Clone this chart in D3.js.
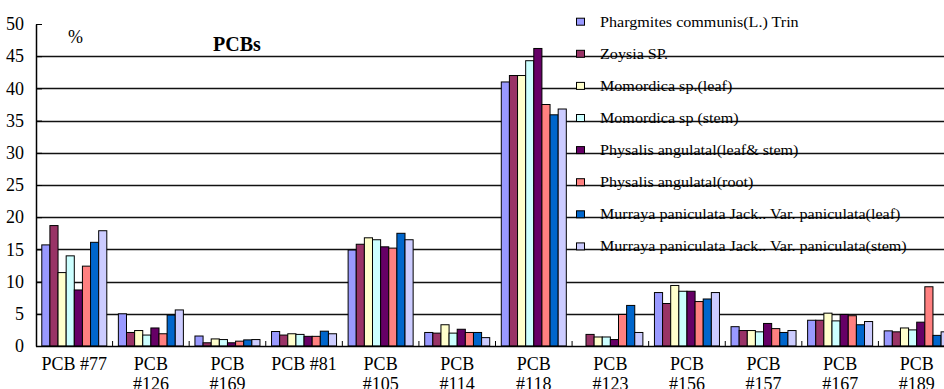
<!DOCTYPE html>
<html><head><meta charset="utf-8">
<script src="https://cdn.jsdelivr.net/npm/d3@7"></script>
<style>
html,body{margin:0;padding:0;background:#fff;overflow:hidden}
svg{display:block}
text{font-family:"Liberation Serif","Times New Roman",serif;fill:#000}
</style></head>
<body>
<svg id="chart" width="944" height="389"></svg>
<script>
const categories = ["PCB #77","PCB #126","PCB #169","PCB #81","PCB #105","PCB #114","PCB #118","PCB #123","PCB #156","PCB #157","PCB #167","PCB #189"];
const seriesNames = [
  "Phargmites communis(L.) Trin",
  "Zoysia SP.",
  "Momordica sp.(leaf)",
  "Momordica sp (stem)",
  "Physalis angulatal(leaf& stem)",
  "Physalis angulatal(root)",
  "Murraya paniculata Jack.. Var. paniculata(leaf)",
  "Murraya paniculata Jack.. Var. paniculata(stem)"
];
const seriesColors = ["#9999FF","#993366","#FFFFCC","#CCFFFF","#660066","#FF8080","#0066CC","#CCCCFF"];
const phargmites = [15.7, 5.0, 1.55, 2.25, 14.9, 2.1, 41.0, 0, 8.3, 3.0, 4.0, 2.35];
const zoysia     = [18.7, 2.1, 0.5, 1.7, 15.8, 2.0, 42.0, 1.8, 6.6, 2.4, 4.0, 2.2];
const momLeaf    = [11.4, 2.4, 1.1, 1.9, 16.8, 3.3, 42.0, 1.4, 9.4, 2.4, 5.1, 2.8];
const momStem    = [14.0, 1.7, 1.0, 1.8, 16.5, 2.0, 44.3, 1.4, 8.5, 2.2, 3.9, 2.5];
const physLeaf   = [8.7, 2.8, 0.5, 1.5, 15.4, 2.6, 46.2, 1.0, 8.5, 3.5, 4.9, 3.7];
const physRoot   = [12.4, 1.9, 0.75, 1.5, 15.2, 2.1, 37.5, 4.9, 6.9, 2.7, 4.7, 9.2];
const murLeaf    = [16.1, 4.8, 0.95, 2.3, 17.5, 2.1, 35.9, 6.3, 7.3, 2.1, 3.3, 1.65];
const murStem    = [17.9, 5.6, 1.0, 1.9, 16.5, 1.3, 36.8, 2.1, 8.3, 2.4, 3.8, 2.2];
const seriesValues = [phargmites, zoysia, momLeaf, momStem, physLeaf, physRoot, murLeaf, murStem];
const yTicks = [0,5,10,15,20,25,30,35,40,45,50];

const svg = d3.select("#chart");
const x0 = 36, xEnd = 955, yTop = 24, yBase = 346;

const x = d3.scaleBand().domain(categories).range([x0, xEnd]).paddingInner(0.151).paddingOuter(0.0755);
const xs = d3.scaleBand().domain(d3.range(seriesNames.length)).range([0, x.bandwidth()]).padding(0);
const y = d3.scaleLinear().domain([0, 50]).range([yBase, yTop]);

// gridlines
svg.append("g").selectAll("line").data(yTicks.filter(t => t > 0 && t < 50)).join("line")
  .attr("x1", x0).attr("x2", 944).attr("y1", d => Math.round(y(d)) + 0.5).attr("y2", d => Math.round(y(d)) + 0.5)
  .attr("stroke", "#111").attr("stroke-width", 1.4);

// bars
const groups = svg.append("g").selectAll("g").data(categories).join("g")
  .attr("transform", d => `translate(${x(d)},0)`);
groups.selectAll("rect").data((c, i) => seriesValues.map((s, k) => ({k, v: s[i]})).filter(d => d.v > 0)).join("rect")
  .attr("x", d => xs(d.k))
  .attr("width", xs.bandwidth())
  .attr("y", d => y(d.v))
  .attr("height", d => yBase - y(d.v))
  .attr("fill", d => seriesColors[d.k])
  .attr("stroke", "#000").attr("stroke-width", 1);

// y axis
const yAxis = d3.axisLeft(y).tickValues(yTicks).tickSizeInner(-6).tickSizeOuter(0).tickPadding(12);
const gy = svg.append("g").attr("transform", `translate(${x0},0)`).call(yAxis);
gy.attr("font-family", null);
gy.select(".domain").attr("stroke", "#000").attr("stroke-width", 1.5);
gy.selectAll(".tick line").attr("stroke", "#000");
gy.selectAll("text").style("font-family", '"Liberation Serif",serif').style("font-size", "18px").attr("fill", "#000");

// x axis
const xAxis = d3.axisBottom(x).tickSize(0).tickPadding(11);
const gx = svg.append("g").attr("transform", `translate(0,${yBase})`).call(xAxis);
gx.attr("font-family", null);
gx.select(".domain").attr("d", `M${x0},0.5H944`).attr("stroke", "#000").attr("stroke-width", 1.5);
gx.selectAll("text").style("font-family", '"Liberation Serif",serif').style("font-size", "18px").attr("fill", "#000")
  .each(function(d) {
    const t = d3.select(this);
    if (this.getComputedTextLength() > 70) {
      const parts = d.split(" ");
      t.text(null);
      t.append("tspan").attr("x", 0).attr("dy", "0.71em").text(parts[0]);
      t.append("tspan").attr("x", 0).attr("dy", "1.13em").text(parts[1]);
      t.attr("dy", null);
    }
  });
// category separator ticks (inside)
svg.append("g").selectAll("line").data(d3.range(1, categories.length + 1)).join("line")
  .attr("x1", i => x0 + i * x.step()).attr("x2", i => x0 + i * x.step())
  .attr("y1", yBase).attr("y2", yBase - 5).attr("stroke", "#000");

// titles
svg.append("text").attr("x", 68).attr("y", 43).style("font-size", "18px").text("%");
svg.append("text").attr("x", 213).attr("y", 51).style("font-size", "20px").style("font-weight", "bold").text("PCBs");

// legend
const leg = svg.append("g").selectAll("g").data(seriesNames).join("g")
  .attr("transform", (d, i) => `translate(576,${21.7 + i * 32.1})`);
leg.append("rect").attr("x", 0.5).attr("y", -3.5).attr("width", 8).attr("height", 7)
  .attr("fill", (d, i) => seriesColors[i]).attr("stroke", "#000");
leg.append("text").attr("x", 24).attr("dy", "0.35em").style("font-size", "14.5px").text(d => d)
  .each(function() {
    const w = this.getComputedTextLength();
    d3.select(this).attr("textLength", w * 1.11).attr("lengthAdjust", "spacingAndGlyphs");
  });
</script>
</body></html>
